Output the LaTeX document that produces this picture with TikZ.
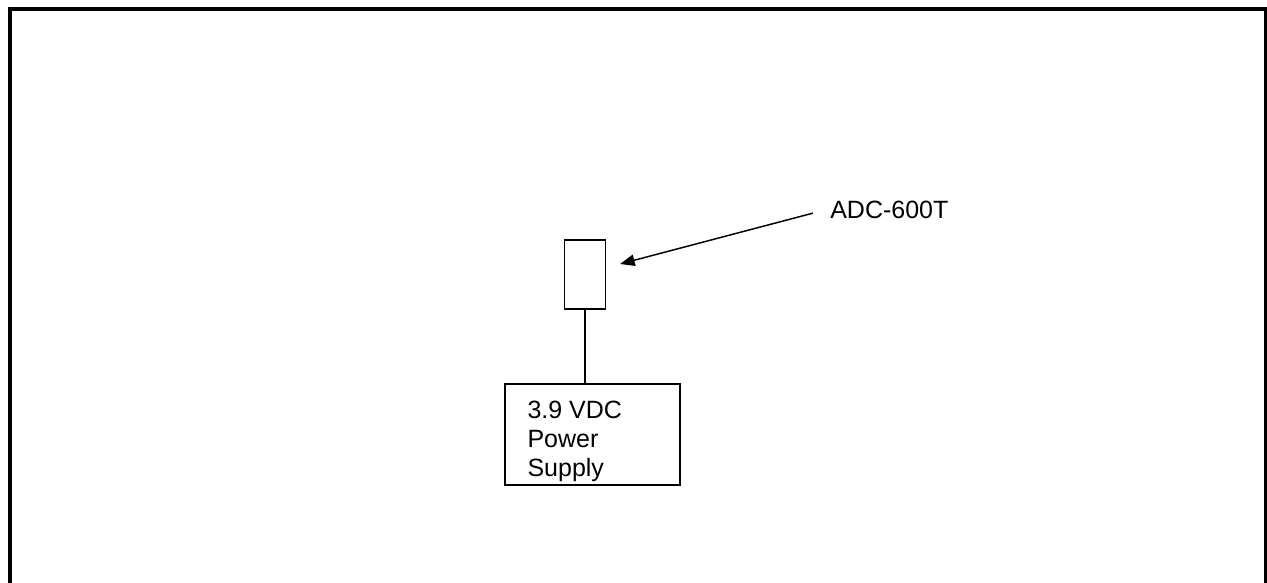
\documentclass[tikz,border=0pt]{standalone}
\usepackage{fontspec}
\setmainfont{Liberation Sans}
\usetikzlibrary{arrows.meta}

\begin{document}
\begin{tikzpicture}[x=0.75pt,y=-0.75pt,
    font=\fontsize{18.75pt}{21.75pt}\selectfont,
    box/.style={draw,line width=1.1pt,inner sep=0pt}]
    \useasboundingbox (0,0) rectangle (1267,582);
    \clip (0,0) rectangle (1267,582);
    \draw[line width=3pt] (10,600) -- (10,9) -- (1266,9) -- (1266,600);

    \node[box,minimum width=30.75pt,minimum height=51.75pt] (adc) at (585,274.5) {};
    \node[box,minimum width=131.25pt,minimum height=75.75pt] (psu) at (592.5,434.5) {};
    \node[anchor=north west,inner sep=0pt,align=left] (psutext) at ([shift={(17.25pt,-13.5pt)}]psu.north west) {3.9 VDC\\Power\\Supply};
    \node[anchor=base west,inner sep=0pt] (lbl) at (830,218) {ADC-600T};
    \coordinate (tip) at (620,264);

    \draw[line width=1.1pt] (adc.south) -- (adc.south |- psu.north);
    \draw[line width=1.1pt,-{Triangle[length=11pt,width=8.5pt]}] ([xshift=-12.75pt,yshift=-2.8pt]lbl.west) -- (tip);
\end{tikzpicture}
\end{document}
